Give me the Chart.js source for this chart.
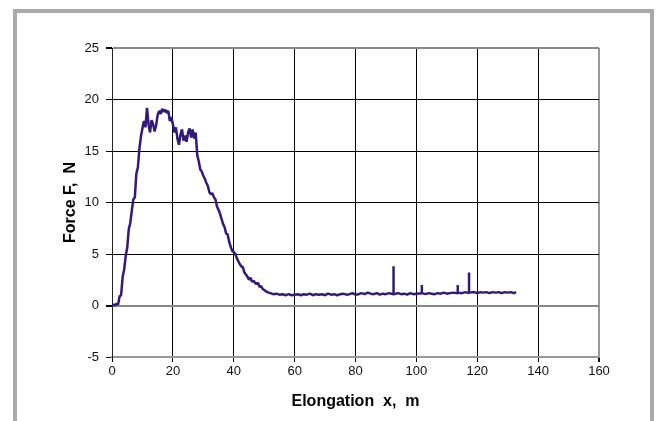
<!DOCTYPE html>
<html>
<head>
<meta charset="utf-8">
<script src="https://cdn.jsdelivr.net/npm/chart.js@4"></script>
<style>
  body { margin: 0; background: #fff; }
  #frame { position: absolute; left: 13px; top: 9px; width: 633px; height: 430px;
           border: 4px solid #aaa; border-bottom: none; }
  #wrap { position: absolute; left: 0; top: 0; width: 656px; height: 421px; }
</style>
</head>
<body>
<div id="frame"></div>
<div id="wrap"><canvas id="canvas" width="656" height="421"></canvas></div>
<script>
// elongation x (m) and force F (N)
var elongation = [
  0, 0.5, 1, 1.5, 2, 2.5, 3, 3.5, 4, 4.5, 5, 5.5, 6, 6.5, 7, 7.5, 8, 8.5, 9, 9.5,
  10, 10.5, 11, 11.5, 12, 12.5, 13, 13.5, 14, 14.5, 15, 15.5, 16, 16.5, 17, 17.5, 18, 18.5, 19, 19.5,
  20, 20.5, 21, 21.5, 22, 22.5, 23, 23.5, 24, 24.5, 25, 25.5, 26, 26.5, 27, 27.5, 28, 28.5, 29, 29.5,
  30, 30.5, 31, 31.5, 32, 32.5, 33, 33.5, 34, 34.5, 35, 35.5, 36, 36.5, 37, 37.5, 38, 38.5, 39, 39.5,
  40, 40.5, 41, 41.5, 42, 42.5, 43, 43.5, 44, 44.5, 45, 45.5, 46, 46.5, 47, 47.5, 48, 48.5, 49, 49.5,
  50, 51, 52, 53, 54, 55, 56, 57, 58, 59, 60, 61, 62, 63, 64, 65, 66, 67, 68, 69,
  70, 71, 72, 73, 74, 75, 76, 77, 78, 79, 80, 81, 82, 83, 84, 85, 86, 87, 88, 89,
  90, 91, 92.5, 92.5, 92.5, 94, 95, 96, 97, 98, 99, 100, 101.8, 101.8, 101.8, 103, 104, 105, 106, 107,
  108, 109, 110, 111, 112, 113.6, 113.6, 113.6, 115, 116, 117.3, 117.3, 117.3, 119, 120, 121, 122, 123, 124, 125,
  126, 127, 128, 129, 130, 131, 132, 132.8
];
var force = [
  0, 0.1, 0, 0.2, 0.1, 0.9, 1.0, 2.8, 3.5, 4.8, 5.6, 7.4, 8.0, 9.2, 10.3, 10.5, 12.8, 13.4, 15.2, 16.4,
  17.2, 17.9, 17.3, 19.2, 17.6, 16.8, 18.0, 17.6, 16.9, 17.5, 18.5, 18.9, 18.6, 19.1, 18.8, 19.0, 18.7, 18.9, 17.9, 18.3,
  17.6, 16.8, 17.3, 16.2, 15.6, 16.6, 17.1, 16.0, 16.5, 15.9, 16.8, 17.2, 16.3, 17.1, 16.2, 16.8, 14.6, 14.0, 13.2, 13.0,
  12.6, 12.3, 11.9, 11.6, 11.0, 10.8, 10.9, 10.5, 10.3, 9.6, 9.3, 8.9, 8.4, 7.9, 7.6, 7.0, 6.9, 6.2, 5.7, 5.3,
  5.2, 5.0, 4.6, 4.3, 4.0, 3.8, 3.7, 3.2, 3.0, 2.8, 2.5, 2.7, 2.3, 2.4, 2.2, 2.1, 2.2, 1.8, 1.9, 1.6,
  1.5, 1.3, 1.2, 1.1, 1.15, 1.05, 1.1, 1.0, 1.1, 1.0, 1.05, 1.1, 1.0, 1.1, 1.05, 1.15, 1.0, 1.1, 1.05, 1.1,
  1.0, 1.15, 1.05, 1.1, 1.0, 1.1, 1.15, 1.05, 1.1, 1.2, 1.05, 1.1, 1.2, 1.1, 1.25, 1.15, 1.1, 1.2, 1.05, 1.15,
  1.1, 1.2, 1.1, 3.8, 1.1, 1.2, 1.1, 1.15, 1.05, 1.2, 1.1, 1.15, 1.2, 2.0, 1.2, 1.1, 1.2, 1.15, 1.1, 1.2,
  1.15, 1.25, 1.15, 1.2, 1.25, 1.2, 2.0, 1.25, 1.2, 1.3, 1.2, 3.2, 1.25, 1.3, 1.2, 1.3, 1.25, 1.3, 1.2, 1.3,
  1.25, 1.3, 1.2, 1.3, 1.25, 1.3, 1.2, 1.3
];

var points = elongation.map(function (x, i) { return { x: x, y: force[i] }; });

Chart.defaults.font.family = "'Liberation Sans', Arial, sans-serif";
Chart.defaults.color = '#111';

var config = {
  type: 'line',
  data: {
    datasets: [{
      label: 'Force',
      data: points,
      borderColor: '#33197a',
      borderWidth: 2.5,
      borderJoinStyle: 'bevel',
      pointRadius: 0,
      tension: 0
    }]
  },
  options: {
    responsive: false,
    animation: false,
    layout: { padding: { left: 61, right: 57, top: 48, bottom: 10 } },
    plugins: { legend: { display: false }, tooltip: { enabled: false } },
    scales: {
      x: {
        type: 'linear', min: 0, max: 160,
        ticks: { stepSize: 20, padding: 2, font: { size: 13 }, maxRotation: 0 },
        grid: {
          color: function (c) { return c.tick.value === 160 ? '#999' : '#000'; },
          lineWidth: function (c) { return c.tick.value === 160 ? 2 : 1; },
          tickLength: 5, tickColor: '#000'
        },
        border: { color: '#999', width: 2 },
        title: { display: true, text: 'Elongation  x,  m', font: { size: 16, weight: 'bold' }, padding: 0, color: '#000' },
        afterFit: function (s) { s.height = 54; }
      },
      y: {
        min: -5, max: 25,
        ticks: { stepSize: 5, padding: 7, font: { size: 13 } },
        grid: {
          color: function (c) { var v = c.tick.value; return (v === 25 || v === 0 || v === -5) ? '#888' : '#000'; },
          lineWidth: function (c) { var v = c.tick.value; return (v === 25 || v === 0) ? 2 : 1; },
          tickLength: 6, tickColor: '#000'
        },
        border: { color: '#222', width: 1 },
        title: { display: true, text: 'Force F,  N', font: { size: 16, weight: 'bold' }, padding: 0, color: '#000' },
        afterFit: function (s) { s.width = 51; }
      }
    }
  }
};

var ctx;
var forceChart;

window.onload = function main() {
  ctx = document.getElementById('canvas').getContext('2d');
  forceChart = new Chart(ctx, config);
};
</script>
</body>
</html>
